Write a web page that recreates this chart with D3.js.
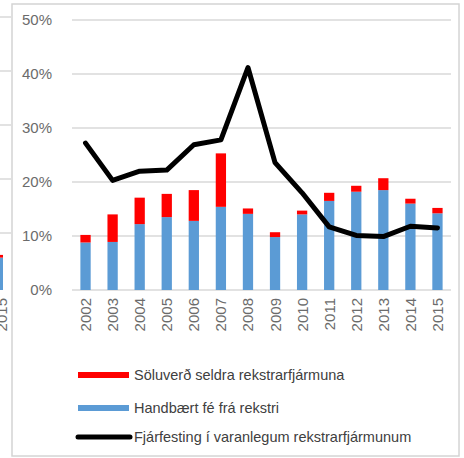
<!DOCTYPE html>
<html>
<head>
<meta charset="utf-8">
<script src="https://cdn.jsdelivr.net/npm/d3@7"></script>
<style>
  body { margin: 0; background: #fff; }
  text { font-family: "Liberation Sans", Arial, sans-serif; }
</style>
</head>
<body>
<script>
const years = ["2002","2003","2004","2005","2006","2007","2008","2009","2010","2011","2012","2013","2014","2015"];
const handbaert = [8.8, 8.9, 12.2, 13.5, 12.8, 15.4, 14.1, 9.8, 14.0, 16.5, 18.2, 18.5, 16.0, 14.2];
const soluverd = [1.4, 5.1, 4.9, 4.3, 5.7, 9.9, 1.0, 0.9, 0.7, 1.5, 1.1, 2.2, 0.9, 1.0];
const fjarfesting = [27.2, 20.3, 22.0, 22.2, 26.9, 27.8, 41.2, 23.6, 18.0, 11.7, 10.1, 9.9, 11.8, 11.5];
const yTicks = [0, 10, 20, 30, 40, 50];
const legendNames = ["Söluverð seldra rekstrarfjármuna", "Handbært fé frá rekstri", "Fjárfesting í varanlegum rekstrarfjármunum"];
// bit of the neighbouring chart that shows at the left edge
const fragmentBar = [6.0, 0.5];

const width = 464, height = 458;
const margin = {top: 20, right: 13, bottom: 168, left: 72};

const svg = d3.select("body").append("svg")
  .attr("width", width)
  .attr("height", height);

const x = d3.scaleBand()
  .domain(years)
  .range([margin.left, width - margin.right])
  .paddingInner(0.62)
  .paddingOuter(0.31);

const y = d3.scaleLinear()
  .domain([0, 50])
  .range([height - margin.bottom, margin.top]);

// frame of the pasted picture
svg.append("rect")
  .attr("x", 12).attr("y", 4)
  .attr("width", 447).attr("height", 452)
  .attr("fill", "none")
  .attr("stroke", "#d4d4d4")
  .attr("stroke-width", 1.5);

// fragment of the neighbouring chart on the left edge
const frag = svg.append("g");
yTicks.filter(t => t > 0).forEach(t => {
  frag.append("line")
    .attr("x1", 0).attr("x2", 11)
    .attr("y1", y(t) - 3).attr("y2", y(t) - 3)
    .attr("stroke", "#d9d9d9").attr("stroke-width", 1.5);
});
frag.append("rect")
  .attr("x", 0).attr("width", 3)
  .attr("y", y(fragmentBar[0])).attr("height", y(0) - y(fragmentBar[0]))
  .attr("fill", "#5b9bd5");
frag.append("rect")
  .attr("x", 0).attr("width", 3)
  .attr("y", y(fragmentBar[0] + fragmentBar[1])).attr("height", y(fragmentBar[0]) - y(fragmentBar[0] + fragmentBar[1]))
  .attr("fill", "#ff0000");
frag.append("text")
  .attr("transform", `translate(7,${y(0) + 8}) rotate(-90)`)
  .attr("text-anchor", "end")
  .attr("font-size", 15)
  .attr("fill", "#6b6b6b")
  .text("2015");

// gridlines + y labels
const yAxis = svg.append("g");
yTicks.forEach(t => {
  yAxis.append("line")
    .attr("x1", margin.left).attr("x2", width - margin.right)
    .attr("y1", y(t)).attr("y2", y(t))
    .attr("stroke", "#d9d9d9").attr("stroke-width", 1.5);
  yAxis.append("text")
    .attr("x", 52).attr("y", y(t))
    .attr("dy", "0.36em")
    .attr("text-anchor", "end")
    .attr("font-size", 15)
    .attr("fill", "#6b6b6b")
    .text(t + "%");
});

// stacked bars
const bars = svg.append("g");
years.forEach((yr, i) => {
  bars.append("rect")
    .attr("x", x(yr)).attr("width", x.bandwidth())
    .attr("y", y(handbaert[i])).attr("height", y(0) - y(handbaert[i]))
    .attr("fill", "#5b9bd5");
  bars.append("rect")
    .attr("x", x(yr)).attr("width", x.bandwidth())
    .attr("y", y(handbaert[i] + soluverd[i])).attr("height", y(handbaert[i]) - y(handbaert[i] + soluverd[i]))
    .attr("fill", "#ff0000");
});

// line
const line = d3.line()
  .x((d, i) => x(years[i]) + x.bandwidth() / 2)
  .y(d => y(d));

svg.append("path")
  .datum(fjarfesting)
  .attr("d", line)
  .attr("fill", "none")
  .attr("stroke", "#000")
  .attr("stroke-width", 5)
  .attr("stroke-linejoin", "round")
  .attr("stroke-linecap", "round");

// x labels rotated
years.forEach(yr => {
  svg.append("text")
    .attr("transform", `translate(${x(yr) + x.bandwidth() / 2 + 5.5},${y(0) + 8}) rotate(-90)`)
    .attr("text-anchor", "end")
    .attr("font-size", 15)
    .attr("fill", "#6b6b6b")
    .text(yr);
});

// legend
const legend = svg.append("g");
const legendY = [375, 408, 437];
const legendColor = ["#ff0000", "#5b9bd5", "#000"];
legendNames.forEach((name, i) => {
  if (i < 2) {
    legend.append("rect")
      .attr("x", 78).attr("y", legendY[i] - 3)
      .attr("width", 51).attr("height", 6)
      .attr("fill", legendColor[i]);
  } else {
    legend.append("line")
      .attr("x1", 78).attr("x2", 130)
      .attr("y1", legendY[i]).attr("y2", legendY[i])
      .attr("stroke", "#000").attr("stroke-width", 5)
      .attr("stroke-linecap", "round");
  }
  legend.append("text")
    .attr("x", 134).attr("y", legendY[i])
    .attr("dy", "0.35em")
    .attr("font-size", 14.5)
    .attr("fill", "#404040")
    .text(name);
});
</script>
</body>
</html>
